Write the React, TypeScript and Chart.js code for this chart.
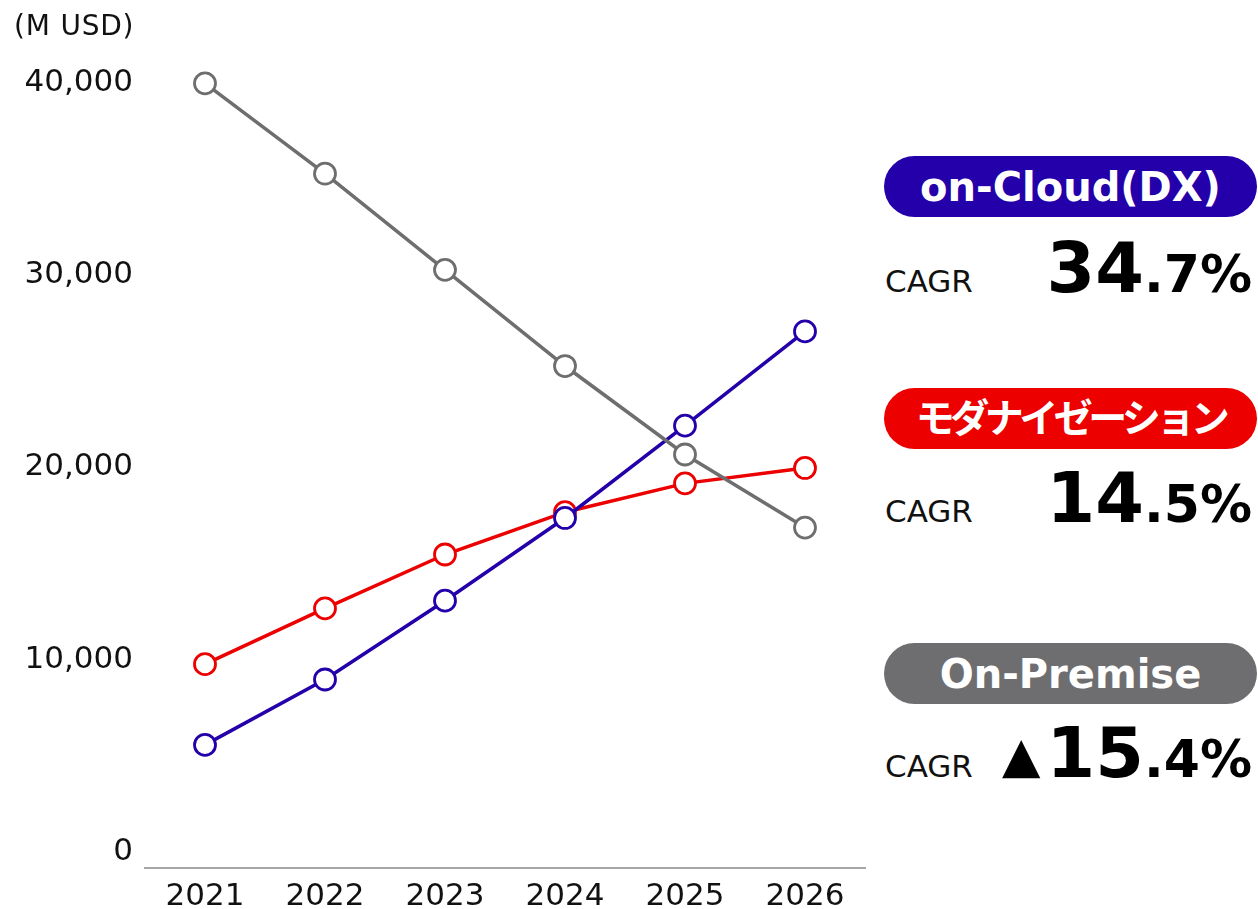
import React, { useEffect, useRef } from "react";
import { Chart, registerables } from "chart.js";

Chart.register(...registerables);

// ---- data ----
const years = ["2021", "2022", "2023", "2024", "2025", "2026"];
const onPremise = [40800, 36100, 31100, 26100, 21500, 17700];
const onCloud = [6400, 9800, 13900, 18200, 23000, 27900];
const modernization = [10600, 13500, 16300, 18500, 20000, 20800];
const yTickValues = [0, 10000, 20000, 30000, 40000];
const unitLabel = "(M USD)";

const seriesNames = ["on-Cloud(DX)", "モダナイゼーション", "On-Premise"];
const cagrPrefix = ["", "", "▲"];
const cagrMajor = ["34", "14", "15"];
const cagrMinor = [".7%", ".5%", ".4%"];

const BLUE = "#2300A9";
const RED = "#EC0000";
const GRAY = "#6E6E70";
const FONT = "'DejaVu Sans', 'Noto Sans CJK JP', sans-serif";

const pillColors = [BLUE, RED, GRAY];
const pillTops = [156, 388, 643];
const cagrBaselines = [292, 522, 777];

export default function App() {
  const canvasRef = useRef<HTMLCanvasElement | null>(null);

  useEffect(() => {
    const canvas = canvasRef.current;
    if (!canvas) return;
    const mk = (label: string, data: number[], color: string) => ({
      label,
      data,
      borderColor: color,
      backgroundColor: color,
      borderWidth: 3.5,
      pointRadius: 10.5,
      pointBorderWidth: 2.8,
      pointBackgroundColor: "#ffffff",
      pointBorderColor: color,
      tension: 0,
    });
    const chart = new Chart(canvas, {
      type: "line",
      data: {
        labels: years,
        datasets: [
          mk(seriesNames[2], onPremise, GRAY),
          mk(seriesNames[0], onCloud, BLUE),
          mk(seriesNames[1], modernization, RED),
        ],
      },
      options: {
        animation: false,
        responsive: false,
        layout: { padding: { top: 41, right: 15, left: 0, bottom: 0 } },
        plugins: {
          legend: { display: false },
          tooltip: { enabled: false },
          title: { display: false },
        },
        scales: {
          x: {
            type: "category",
            offset: true,
            grid: { display: false, drawTicks: false },
            border: { display: true, color: "#A6A6A6", width: 2 },
            ticks: {
              color: "#111111",
              font: { family: FONT, size: 31 },
              padding: 10,
              maxRotation: 0,
              autoSkip: false,
            },
            afterFit: (scale: any) => {
              scale.height = 41;
            },
          },
          y: {
            type: "linear",
            min: 0,
            max: 43000,
            grid: { display: false, drawTicks: false },
            border: { display: false },
            afterBuildTicks: (scale: any) => {
              scale.ticks = yTickValues.map((v) => ({ value: v }));
            },
            ticks: {
              color: "#111111",
              font: { family: FONT, size: 31 },
              padding: 12,
              labelOffset: -16,
              callback: (v: any) => Number(v).toLocaleString("en-US"),
            },
            afterFit: (scale: any) => {
              scale.width = 145;
            },
          },
        },
      },
    } as any);
    return () => chart.destroy();
  }, []);

  return (
    <div
      style={{
        position: "fixed",
        left: 0,
        top: 0,
        width: 1258,
        height: 909,
        background: "#ffffff",
        overflow: "hidden",
        fontFamily: FONT,
        color: "#111111",
      }}
    >
      <canvas
        ref={canvasRef}
        width={880}
        height={909}
        style={{ position: "absolute", left: 0, top: 0, width: 880, height: 909 }}
      />
      <div
        style={{
          position: "absolute",
          left: 14,
          top: 36 - 0.846 * 28,
          fontSize: 28,
          lineHeight: 1,
          letterSpacing: 0.8,
          whiteSpace: "nowrap",
        }}
      >
        {unitLabel}
      </div>
      {seriesNames.map((name, i) => (
        <React.Fragment key={name}>
          <div
            style={{
              position: "absolute",
              left: 884,
              top: pillTops[i],
              width: 373,
              height: 61,
              borderRadius: 30.5,
              background: pillColors[i],
              color: "#ffffff",
              display: "flex",
              alignItems: "center",
              justifyContent: "center",
              fontWeight: "bold",
              fontSize: i === 1 ? 39 : 40,
              letterSpacing: i === 1 ? -4.5 : 0,
              lineHeight: 1,
              whiteSpace: "nowrap",
            }}
          >
            {name}
          </div>
          <div
            style={{
              position: "absolute",
              left: 885,
              top: cagrBaselines[i] - 0.846 * 31,
              fontSize: 31,
              lineHeight: 1,
              whiteSpace: "nowrap",
            }}
          >
            CAGR
          </div>
          <div
            style={{
              position: "absolute",
              right: 1258 - 1252,
              top: cagrBaselines[i] - 0.846 * 70,
              fontSize: 70,
              lineHeight: 1,
              fontWeight: "bold",
              whiteSpace: "nowrap",
              color: "#000000",
            }}
          >
            {cagrPrefix[i] ? (
              <span
                style={{
                  fontSize: 50,
                  fontWeight: "normal",
                  marginRight: 6,
                  position: "relative",
                  top: -5,
                }}
              >
                {cagrPrefix[i]}
              </span>
            ) : null}
            <span>{cagrMajor[i]}</span>
            <span style={{ fontSize: 52 }}>{cagrMinor[i]}</span>
          </div>
        </React.Fragment>
      ))}
    </div>
  );
}
